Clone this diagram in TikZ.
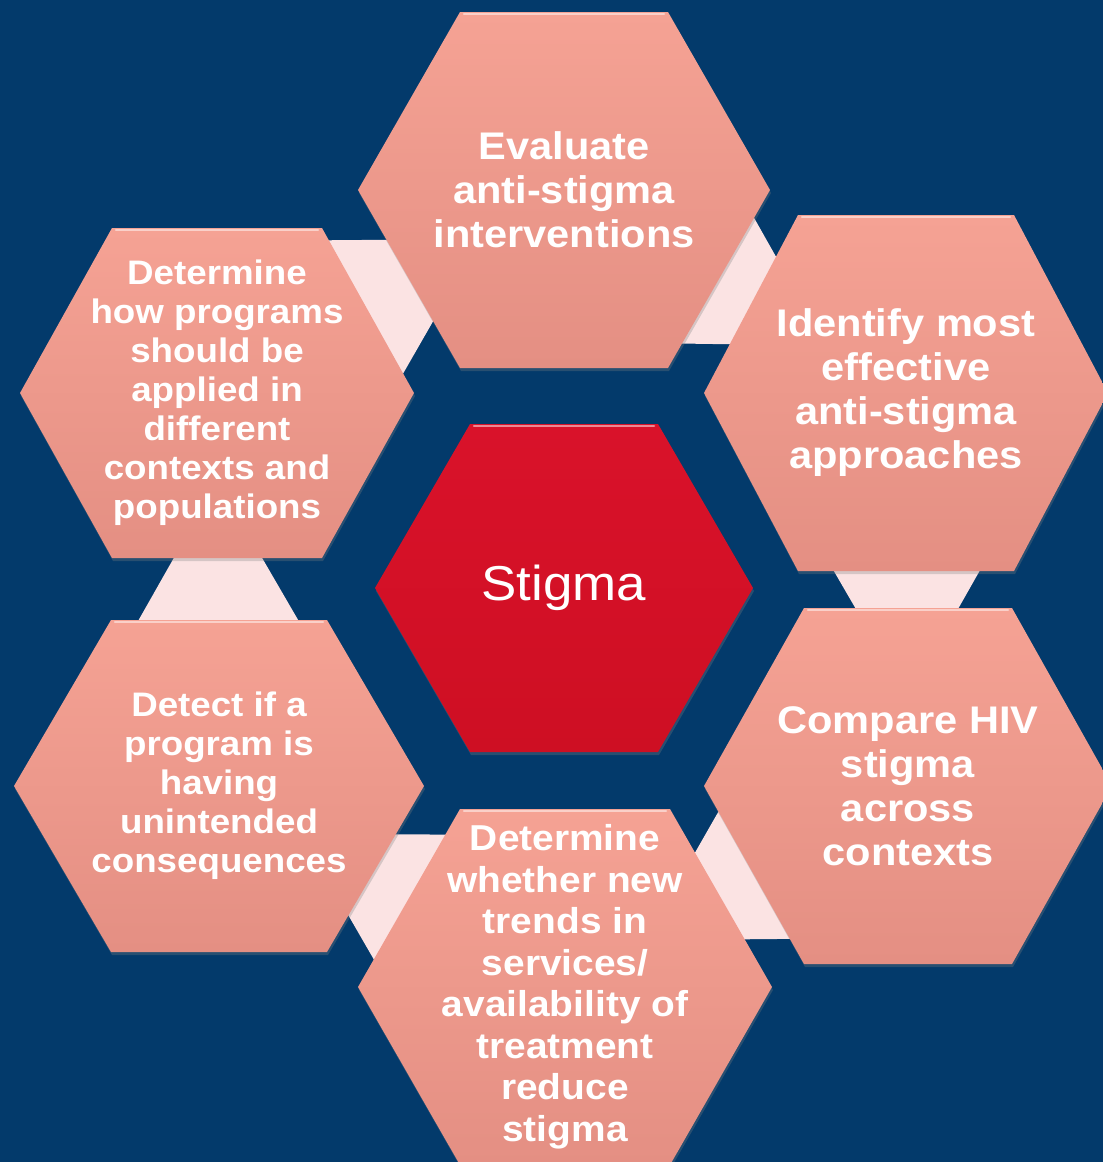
\documentclass[tikz,border=0pt]{standalone}
\usepackage{fontspec}
\newfontfamily\cellfont{Liberation Sans}[FakeStretch=1.08]
\usetikzlibrary{calc,shadows}
\definecolor{navy}{HTML}{033A6B}
\definecolor{salmon}{HTML}{F5A294}
\definecolor{salmondark}{HTML}{E48F83}
\definecolor{blush}{HTML}{FBE3E3}
\definecolor{crimson}{HTML}{D9122A}
\definecolor{crimsondark}{HTML}{CE0F23}

\begin{document}
\begin{tikzpicture}[x=1pt,y=1pt,
  cell/.style={top color=salmon,bottom color=salmondark,
    drop shadow={shadow xshift=1pt,shadow yshift=-3pt,opacity=.3}},
  core/.style={top color=crimson,bottom color=crimsondark,
    drop shadow={shadow xshift=1pt,shadow yshift=-3pt,opacity=.3}},
  link/.style={fill=blush},
  bevel/.style={white,opacity=.5,line width=2.5pt,line cap=round},
  celltext/.style={text=white,align=center,inner sep=0pt},
  big/.style={font=\cellfont\bfseries\fontsize{38.5}{44}\selectfont},
  mid/.style={font=\cellfont\bfseries\fontsize{36}{41.5}\selectfont},
  small/.style={font=\cellfont\bfseries\fontsize{34}{39}\selectfont},
  % hexagon: half width, half height, half top edge, fill style
  pics/hexcell/.style n args={4}{code={
    \path[#4] (-#1,0) -- (-#3,#2) -- (#3,#2) -- (#1,0) -- (#3,-#2) -- (-#3,-#2) -- cycle;
    \draw[bevel] (-#3+4,#2-2) -- (#3-4,#2-2);
  }}]
  \fill[navy] (0,0) rectangle (1103,-1162);
  \useasboundingbox (0,0) rectangle (1103,-1162);
  \clip (0,0) rectangle (1103,-1162);

  \coordinate (top) at (564,-190);
  \coordinate (ur) at (906,-393);
  \coordinate (lr) at (908,-786);
  \coordinate (bot) at (565,-987);
  \coordinate (ll) at (219,-786);
  \coordinate (ul) at (217,-393);
  \coordinate (hub) at (564,-588);

  % links between neighbouring cells, clockwise
  \foreach \a/\b in {ul/top,top/ur,ur/lr,lr/bot,bot/ll,ll/ul}
    \fill[link] ($(\a)!175pt!90:(\b)$) -- ($(\a)!305pt!(\b)$) -- ($(\a)!175pt!-90:(\b)$) -- cycle;

  \pic at (ul) {hexcell={197}{165}{105}{cell}};
  \pic at (ll) {hexcell={205}{166}{108}{cell}};
  \pic at (top) {hexcell={206}{178}{104}{cell}};
  \pic at (ur) {hexcell={202}{178}{108}{cell}};
  \pic at (lr) {hexcell={204}{178}{104}{cell}};
  \pic at (bot) {hexcell={207}{178}{105}{cell}};
  \pic at (hub) {hexcell={189}{164}{94}{core}};

  \node[celltext,big] (top-t) at (top) {Evaluate\\anti-stigma\\interventions};
  \node[celltext,big] (ur-t) at (ur) {Identify most\\effective\\anti-stigma\\approaches};
  \node[celltext,big] (lr-t) at (lr) {Compare HIV\\stigma\\across\\contexts};
  \node[celltext,mid] (bot-t) at (bot) {Determine\\whether new\\trends in\\services/\\availability of\\treatment\\reduce\\stigma};
  \node[celltext,small] (ll-t) at (ll) {Detect if a\\program is\\having\\unintended\\consequences};
  \node[celltext,small] (ul-t) at (ul) {Determine\\how programs\\should be\\applied in\\different\\contexts and\\populations};
  \node[celltext,font=\cellfont\fontsize{49}{56}\selectfont] (hub-t) at (hub) {Stigma};
\end{tikzpicture}
\end{document}
